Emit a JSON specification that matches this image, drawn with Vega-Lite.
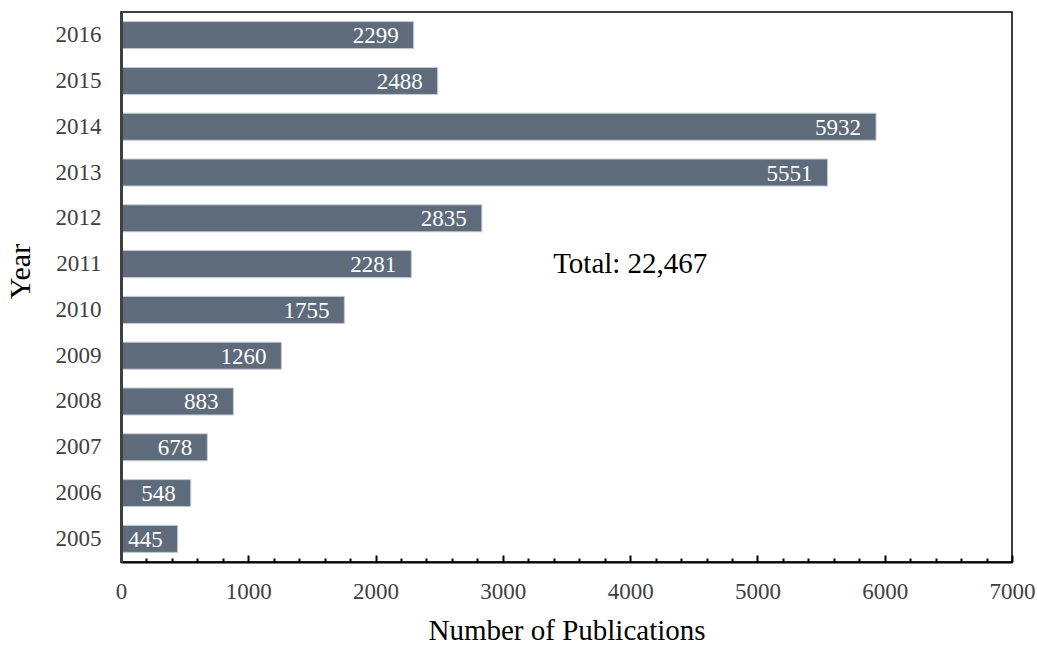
{
  "$schema": "https://vega.github.io/schema/vega-lite/v6.json",
  "width": 891,
  "height": 550,
  "autosize": {"type": "none"},
  "padding": {"left": 121, "top": 12, "right": 25, "bottom": 85},
  "background": "white",
  "config": {
    "font": "Liberation Serif",
    "view": {"stroke": "black", "strokeWidth": 1.5},
    "axis": {"grid": false}
  },
  "data": {
    "values": [
      {"year": "2005", "count": 445},
      {"year": "2006", "count": 548},
      {"year": "2007", "count": 678},
      {"year": "2008", "count": 883},
      {"year": "2009", "count": 1260},
      {"year": "2010", "count": 1755},
      {"year": "2011", "count": 2281},
      {"year": "2012", "count": 2835},
      {"year": "2013", "count": 5551},
      {"year": "2014", "count": 5932},
      {"year": "2015", "count": 2488},
      {"year": "2016", "count": 2299}
    ]
  },
  "encoding": {
    "y": {
      "field": "year",
      "type": "nominal",
      "sort": "descending",
      "scale": {"paddingInner": 0.41, "paddingOuter": 0.21},
      "axis": {
        "title": "Year",
        "titleFontSize": 30,
        "titleFontWeight": "normal",
        "titleColor": "black",
        "titlePadding": 20,
        "titleY": 259,
        "labelFontSize": 23,
        "labelColor": "#404040",
        "labelPadding": 20,
        "ticks": false,
        "domainColor": "#404040",
        "domainWidth": 3,
        "zindex": 1
      }
    },
    "x": {
      "field": "count",
      "type": "quantitative",
      "scale": {"domain": [0, 7000], "nice": false},
      "axis": {
        "title": "Number of Publications",
        "titleFontSize": 29,
        "titleFontWeight": "normal",
        "titleColor": "black",
        "titlePadding": 10,
        "values": [0,200,400,600,800,1000,1200,1400,1600,1800,2000,2200,2400,2600,2800,3000,3200,3400,3600,3800,4000,4200,4400,4600,4800,5000,5200,5400,5600,5800,6000,6200,6400,6600,6800,7000],
        "format": "d",
        "labelExpr": "datum.value % 1000 === 0 ? datum.label : ''",
        "labelFontSize": 23,
        "labelColor": "#404040",
        "labelPadding": 25,
        "labelFlush": false,
        "labelOverlap": false,
        "tickColor": "black",
        "tickWidth": 2,
        "tickSize": {"condition": {"test": "datum.value % 1000 === 0", "value": -7}, "value": -4},
        "domainColor": "black",
        "domainWidth": 2,
        "zindex": 1
      }
    }
  },
  "layer": [
    {
      "mark": {"type": "bar", "color": "#5e6b7b", "stroke": "#c5cbd3", "strokeWidth": 1}
    },
    {
      "mark": {"type": "text", "align": "right", "baseline": "middle", "dx": -15, "dy": 1, "color": "white", "fontSize": 23},
      "encoding": {
        "text": {"field": "count", "type": "quantitative", "format": "d"}
      }
    },
    {
      "data": {"values": [{"year": "2011", "count": 3395, "label": "Total: 22,467"}]},
      "mark": {"type": "text", "align": "left", "baseline": "middle", "color": "black", "fontSize": 29},
      "encoding": {
        "text": {"field": "label"}
      }
    }
  ]
}
